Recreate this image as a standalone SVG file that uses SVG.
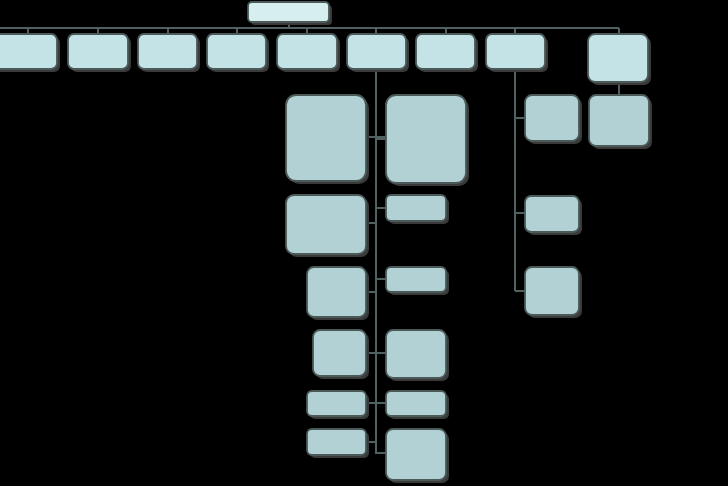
<svg xmlns="http://www.w3.org/2000/svg" width="728" height="486" viewBox="0 0 728 486">
<defs>
<style>
.n rect.s{fill:#3a3a3a}
.n rect.b{stroke:#4b5959;stroke-width:1.8}
.top rect.b{fill:#d6eeee}
.l1 rect.b{fill:#c3e3e6}
.l2 rect.b{fill:#b1d1d5}
#connectors path{fill:none;stroke:#4f6161;stroke-width:2}
</style>
</defs>
<rect width="728" height="486" fill="#000"/>
<g id="connectors">
<path d="M289 22V28M0 28H619M28 28V34M98 28V34M168 28V34M237 28V34M307 28V34M376 28V34M446 28V34M515 28V34M619 28V34"/>
<path d="M619 82V95"/>
<path d="M515 69V291M515 118H525M515 213H525M515 291H525"/>
<path d="M376 69V454M366 137H386M376 139H386M376 208H386M366 223H376M376 279H386M366 292H376M366 353H386M366 403H386M366 442H376M376 453H386"/>
</g>
<g id="n0" class="n top"><rect class="s" x="251" y="5" width="81" height="20" rx="4"/><rect class="b" x="248" y="2" width="81" height="20" rx="4"/></g>
<g id="n1" class="n l1"><rect class="s" x="-5" y="37" width="65" height="35" rx="6"/><rect class="b" x="-8" y="34" width="65" height="35" rx="6"/></g>
<g id="n2" class="n l1"><rect class="s" x="71" y="37" width="60" height="35" rx="6"/><rect class="b" x="68" y="34" width="60" height="35" rx="6"/></g>
<g id="n3" class="n l1"><rect class="s" x="141" y="37" width="59" height="35" rx="6"/><rect class="b" x="138" y="34" width="59" height="35" rx="6"/></g>
<g id="n4" class="n l1"><rect class="s" x="210" y="37" width="59" height="35" rx="6"/><rect class="b" x="207" y="34" width="59" height="35" rx="6"/></g>
<g id="n5" class="n l1"><rect class="s" x="280" y="37" width="60" height="35" rx="6"/><rect class="b" x="277" y="34" width="60" height="35" rx="6"/></g>
<g id="n6" class="n l1"><rect class="s" x="350" y="37" width="59" height="35" rx="6"/><rect class="b" x="347" y="34" width="59" height="35" rx="6"/></g>
<g id="n7" class="n l1"><rect class="s" x="419" y="37" width="59" height="35" rx="6"/><rect class="b" x="416" y="34" width="59" height="35" rx="6"/></g>
<g id="n8" class="n l1"><rect class="s" x="489" y="37" width="59" height="35" rx="6"/><rect class="b" x="486" y="34" width="59" height="35" rx="6"/></g>
<g id="n9" class="n l1"><rect class="s" x="591" y="37" width="60" height="48" rx="7"/><rect class="b" x="588" y="34" width="60" height="48" rx="7"/></g>
<g id="n10" class="n l2"><rect class="s" x="592" y="98" width="60" height="51" rx="7"/><rect class="b" x="589" y="95" width="60" height="51" rx="7"/></g>
<g id="n11" class="n l2"><rect class="s" x="528" y="98" width="54" height="46" rx="7"/><rect class="b" x="525" y="95" width="54" height="46" rx="7"/></g>
<g id="n12" class="n l2"><rect class="s" x="528" y="199" width="54" height="36" rx="6"/><rect class="b" x="525" y="196" width="54" height="36" rx="6"/></g>
<g id="n13" class="n l2"><rect class="s" x="528" y="270" width="54" height="48" rx="7"/><rect class="b" x="525" y="267" width="54" height="48" rx="7"/></g>
<g id="n14" class="n l2"><rect class="s" x="289" y="98" width="80" height="86" rx="10"/><rect class="b" x="286" y="95" width="80" height="86" rx="10"/></g>
<g id="n15" class="n l2"><rect class="s" x="389" y="98" width="80" height="88" rx="10"/><rect class="b" x="386" y="95" width="80" height="88" rx="10"/></g>
<g id="n16" class="n l2"><rect class="s" x="289" y="198" width="80" height="59" rx="8"/><rect class="b" x="286" y="195" width="80" height="59" rx="8"/></g>
<g id="n17" class="n l2"><rect class="s" x="389" y="198" width="60" height="26" rx="5"/><rect class="b" x="386" y="195" width="60" height="26" rx="5"/></g>
<g id="n18" class="n l2"><rect class="s" x="310" y="270" width="59" height="50" rx="7"/><rect class="b" x="307" y="267" width="59" height="50" rx="7"/></g>
<g id="n19" class="n l2"><rect class="s" x="389" y="270" width="60" height="25" rx="5"/><rect class="b" x="386" y="267" width="60" height="25" rx="5"/></g>
<g id="n20" class="n l2"><rect class="s" x="316" y="333" width="53" height="46" rx="7"/><rect class="b" x="313" y="330" width="53" height="46" rx="7"/></g>
<g id="n21" class="n l2"><rect class="s" x="389" y="333" width="60" height="48" rx="7"/><rect class="b" x="386" y="330" width="60" height="48" rx="7"/></g>
<g id="n22" class="n l2"><rect class="s" x="310" y="394" width="59" height="25" rx="5"/><rect class="b" x="307" y="391" width="59" height="25" rx="5"/></g>
<g id="n23" class="n l2"><rect class="s" x="389" y="394" width="60" height="25" rx="5"/><rect class="b" x="386" y="391" width="60" height="25" rx="5"/></g>
<g id="n24" class="n l2"><rect class="s" x="310" y="432" width="59" height="26" rx="5"/><rect class="b" x="307" y="429" width="59" height="26" rx="5"/></g>
<g id="n25" class="n l2"><rect class="s" x="389" y="432" width="60" height="51" rx="7"/><rect class="b" x="386" y="429" width="60" height="51" rx="7"/></g>
</svg>
